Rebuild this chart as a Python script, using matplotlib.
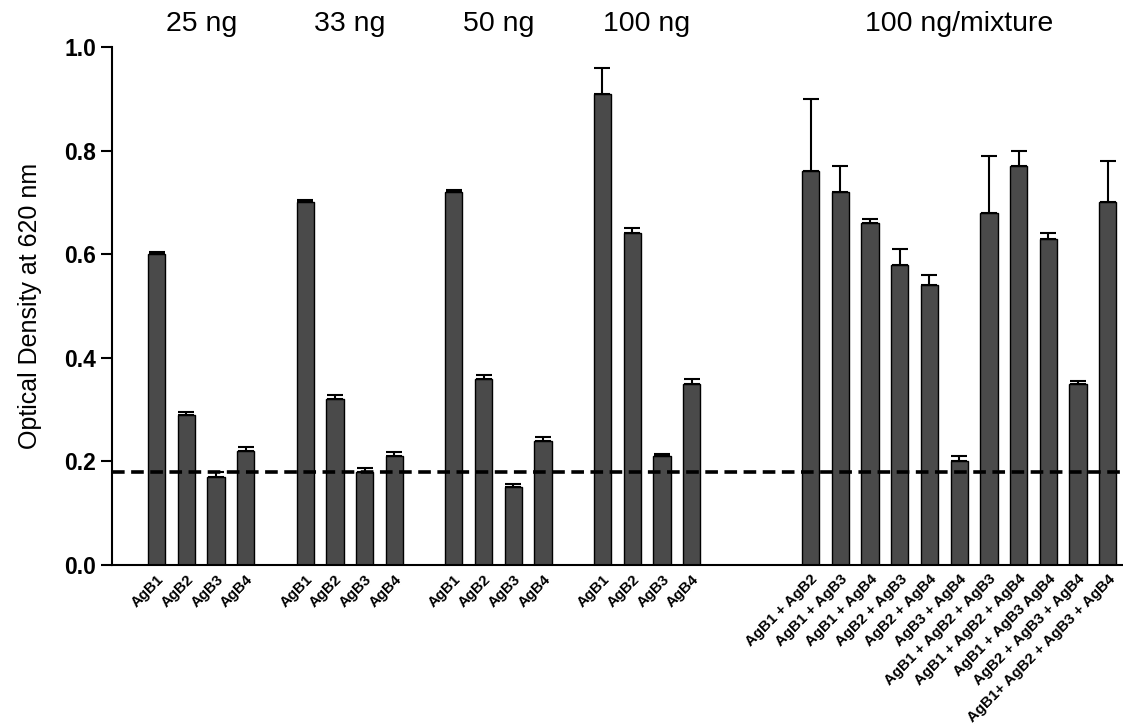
import numpy as np
import matplotlib.pyplot as plt

plt.rcParams['font.family'] = ['Liberation Sans', 'DejaVu Sans']

# --- data ---
group_names = ["25 ng", "33 ng", "50 ng", "100 ng", "100 ng/mixture"]
single_labels = ["AgB1", "AgB2", "AgB3", "AgB4"]
mixture_labels = ["AgB1 + AgB2", "AgB1 + AgB3", "AgB1 + AgB4", "AgB2 + AgB3",
                  "AgB2 + AgB4", "AgB3 + AgB4", "AgB1 + AgB2 + AgB3",
                  "AgB1 + AgB2 + AgB4", "AgB1 + AgB3 AgB4",
                  "AgB2 + AgB3 + AgB4", "AgB1+ AgB2 + AgB3 + AgB4"]

od_25 = [0.60, 0.29, 0.17, 0.22]
err_25 = [0.005, 0.005, 0.01, 0.007]
od_33 = [0.70, 0.32, 0.18, 0.21]
err_33 = [0.004, 0.008, 0.008, 0.008]
od_50 = [0.72, 0.36, 0.15, 0.24]
err_50 = [0.004, 0.006, 0.007, 0.008]
od_100 = [0.91, 0.64, 0.21, 0.35]
err_100 = [0.05, 0.01, 0.005, 0.01]
od_mix = [0.76, 0.72, 0.66, 0.58, 0.54, 0.20, 0.68, 0.77, 0.63, 0.35, 0.70]
err_mix = [0.14, 0.05, 0.008, 0.03, 0.02, 0.01, 0.11, 0.03, 0.01, 0.005, 0.08]

cutoff = 0.18

# slot positions: groups of 4 separated by one empty slot, mixtures after a wider gap
group_starts = [0, 5, 10, 15, 22]
values = [od_25, od_33, od_50, od_100, od_mix]
errors = [err_25, err_33, err_50, err_100, err_mix]
labels = [single_labels] * 4 + [mixture_labels]

fig = plt.figure(figsize=(11.23, 7.24), dpi=100)
ax = fig.add_axes([0.0997, 0.2196, 0.9, 0.7155])

all_x, all_lab = [], []
for start, vals, errs, labs, name in zip(group_starts, values, errors, labels, group_names):
    x = start + np.arange(len(vals))
    ax.bar(x, vals, width=0.58, color='#4a4a4a', edgecolor='black', linewidth=1.0, zorder=2)
    ax.errorbar(x, vals, yerr=[np.zeros(len(errs)), errs], fmt='none', ecolor='black',
                elinewidth=1.5, capsize=6, capthick=1.5, zorder=3)
    ax.text(x.mean(), 1.045, name, ha='center', va='center', fontsize=20.5)
    all_x.extend(x)
    all_lab.extend(labs)

ax.axhline(cutoff, color='black', linestyle=(0, (3.5, 1.8)), linewidth=2.6, zorder=4)

ax.set_xlim(-1.5, 32.5)
ax.set_ylim(0, 1.0)
ax.set_yticks(np.arange(0, 1.01, 0.2))
ax.set_yticklabels([f"{v:.1f}" for v in np.arange(0, 1.01, 0.2)], fontsize=16.5, fontweight='bold')
ax.set_xticks(all_x)
ax.set_xticklabels(all_lab, rotation=45, ha='right', rotation_mode='anchor',
                   fontsize=10.8, fontweight='bold')
ax.tick_params(axis='x', length=0, pad=5)
ax.tick_params(axis='y', length=8, width=1.5, direction='out')
ax.set_ylabel("Optical Density at 620 nm", fontsize=18, labelpad=16)

for side in ['top', 'right']:
    ax.spines[side].set_visible(False)
for side in ['left', 'bottom']:
    ax.spines[side].set_linewidth(1.5)

plt.savefig("out.png", dpi=100)
